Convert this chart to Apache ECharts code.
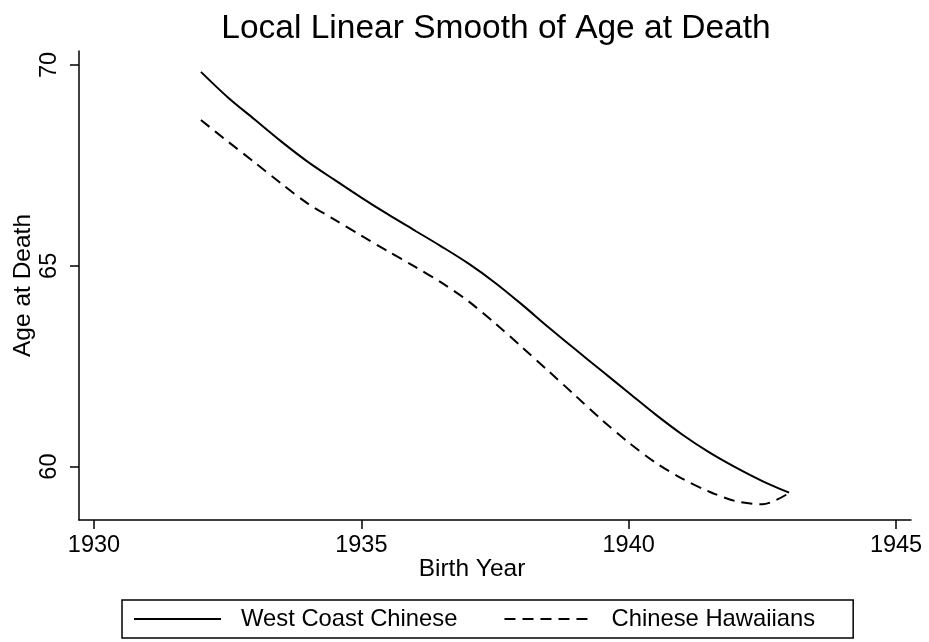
<!DOCTYPE html>
<html>
<head>
<meta charset="utf-8">
<script src="https://cdn.jsdelivr.net/npm/echarts@6/dist/echarts.min.js"></script>
<style>
  html, body { margin: 0; padding: 0; background: #fff; }
  #chart { width: 929px; height: 642px; }
</style>
</head>
<body>
<div id="chart"></div>
<script>
// birth years (x), every half year
const years = [1932, 1932.5, 1933, 1933.5, 1934, 1934.5, 1935, 1935.5, 1936, 1936.5, 1937,
  1937.5, 1938, 1938.5, 1939, 1939.5, 1940, 1940.5, 1941, 1941.5, 1942, 1942.5, 1943];

// smoothed age at death
const westCoast = [69.83, 69.2, 68.65, 68.1, 67.59, 67.14, 66.7, 66.28, 65.88, 65.48, 65.06,
  64.58, 64.04, 63.47, 62.92, 62.38, 61.84, 61.3, 60.8, 60.36, 59.98, 59.64, 59.35];
const hawaii = [68.63, 68.1, 67.58, 67.05, 66.55, 66.15, 65.75, 65.36, 64.98, 64.58, 64.12,
  63.57, 62.98, 62.38, 61.77, 61.16, 60.6, 60.1, 59.7, 59.38, 59.14, 59.06, 59.34];

const xTicks = [1930, 1935, 1940, 1945];
const yTicks = [60, 65, 70];
const seriesNames = ['West Coast Chinese', 'Chinese Hawaiians'];

const FONT = 'Liberation Sans, Arial, Helvetica, sans-serif';

const chart = echarts.init(document.getElementById('chart'));

const axisCommon = {
  axisLine: { show: true, lineStyle: { color: '#000', width: 1.5 } },
  axisTick: { show: true, length: 9, lineStyle: { color: '#000', width: 1.5 } },
  splitLine: { show: false },
  nameMoveOverlap: false,
};

const option = {
  animation: false,
  backgroundColor: '#fff',
  title: {
    text: 'Local Linear Smooth of Age at Death',
    left: 491,
    textAlign: 'center',
    top: 7,
    textStyle: { fontSize: 33.5, fontWeight: 'normal', color: '#000', fontFamily: FONT },
  },
  grid: { left: 79, right: 18, top: 51, bottom: 122, containLabel: false, outerBoundsMode: 'none' },
  legend: {
    data: seriesNames,
    left: 122,
    bottom: 4,
    padding: [7, 38, 7, 11],
    itemWidth: 87,
    itemHeight: 14,
    itemGap: 46,
    borderColor: '#000',
    borderWidth: 1.5,
    borderRadius: 0,
    itemStyle: { opacity: 0 },
    textStyle: { fontSize: 23.8, color: '#000', fontFamily: FONT, padding: [0, 0, 0, 15] },
  },
  xAxis: {
    ...axisCommon,
    type: 'value',
    min: 1929.72,
    max: 1945.28,
    name: 'Birth Year',
    nameLocation: 'middle',
    nameGap: 37,
    nameTextStyle: { color: '#000', fontSize: 24.5, fontFamily: FONT, padding: [0, 46, 0, 0] },
    axisTick: { ...axisCommon.axisTick, customValues: xTicks },
    axisLabel: {
      customValues: xTicks,
      fontSize: 23.5, color: '#000', fontFamily: FONT, margin: 14,
      formatter: (v) => String(v),
    },
  },
  yAxis: {
    ...axisCommon,
    type: 'value',
    min: 58.67,
    max: 70.35,
    name: 'Age at Death',
    nameLocation: 'middle',
    nameGap: 43,
    nameTextStyle: { color: '#000', fontSize: 24.5, fontFamily: FONT },
    axisTick: { ...axisCommon.axisTick, customValues: yTicks },
    axisLabel: {
      customValues: yTicks,
      rotate: 90,
      fontSize: 23.5, color: '#000', fontFamily: FONT, margin: 17,
    },
  },
  series: [
    {
      name: seriesNames[0],
      type: 'line',
      data: years.map((y, i) => [y, westCoast[i]]),
      smooth: 0.3,
      symbol: 'none',
      lineStyle: { color: '#000', width: 2, type: 'solid' },
      itemStyle: { color: '#000' },
    },
    {
      name: seriesNames[1],
      type: 'line',
      data: years.map((y, i) => [y, hawaii[i]]),
      smooth: 0.3,
      symbol: 'none',
      lineStyle: { color: '#000', width: 2, type: [11, 7] },
      itemStyle: { color: '#000' },
    },
  ],
};

chart.setOption(option);
</script>
</body>
</html>
